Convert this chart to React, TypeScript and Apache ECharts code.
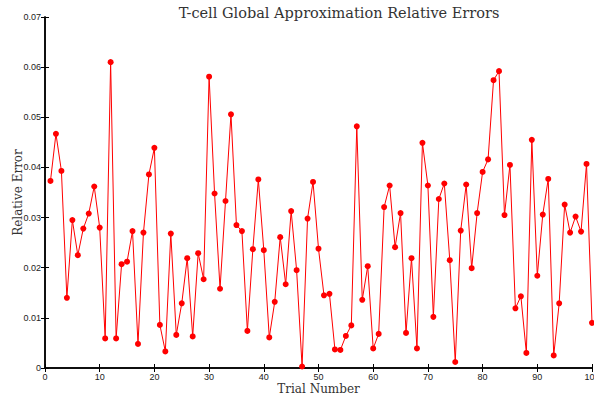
import React, { useEffect, useRef } from "react";
import * as echarts from "echarts";

const trials: number[] = Array.from({ length: 100 }, (_, i) => i + 1);
const errors: number[] = [
  0.0373, 0.0467, 0.0393, 0.0140, 0.0295, 0.0225, 0.0278, 0.0308, 0.0362, 0.0280,
  0.0059, 0.0610, 0.0059, 0.0207, 0.0212, 0.0273, 0.0048, 0.0270, 0.0386, 0.0439,
  0.0086, 0.0033, 0.0268, 0.0066, 0.0129, 0.0219, 0.0063, 0.0229, 0.0177, 0.0581,
  0.0348, 0.0158, 0.0333, 0.0506, 0.0285, 0.0273, 0.0074, 0.0237, 0.0376, 0.0235,
  0.0061, 0.0132, 0.0261, 0.0167, 0.0313, 0.0195, 0.0003, 0.0298, 0.0371, 0.0238,
  0.0145, 0.0148, 0.0037, 0.0036, 0.0064, 0.0085, 0.0482, 0.0136, 0.0203, 0.0039,
  0.0068, 0.0321, 0.0364, 0.0241, 0.0309, 0.0070, 0.0219, 0.0039, 0.0449, 0.0364,
  0.0102, 0.0337, 0.0368, 0.0215, 0.0012, 0.0274, 0.0366, 0.0199, 0.0309, 0.0391,
  0.0416, 0.0574, 0.0592, 0.0305, 0.0405, 0.0119, 0.0143, 0.0030, 0.0455, 0.0184,
  0.0306, 0.0377, 0.0025, 0.0129, 0.0326, 0.0270, 0.0302, 0.0272, 0.0407, 0.0090,
];

const titleText = "T-cell Global Approximation Relative Errors";
const xName = "Trial Number";
const yName = "Relative Error";

export default function App() {
  const ref = useRef<HTMLDivElement>(null);
  useEffect(() => {
    if (!ref.current) return;
    const chart = echarts.init(ref.current, undefined, { renderer: "svg" });
    const axisLine = { show: true, lineStyle: { color: "#000", width: 1.5 } };
    const tick = { show: true, inside: true, length: 4, lineStyle: { color: "#000", width: 1 } };
    const labelStyle = { color: "#222", fontSize: 9, fontFamily: "Liberation Sans, Arial, sans-serif" };
    chart.setOption({
      animation: false,
      backgroundColor: "#fff",
      title: {
        text: titleText,
        left: 334,
        textAlign: "center",
        top: 0,
        textStyle: {
          fontFamily: "DejaVu Serif, serif",
          fontWeight: "normal",
          fontSize: 14.5,
          color: "#333",
        },
      },
      grid: { left: 45, right: 2, top: 17, bottom: 31, containLabel: false, outerBoundsMode: "none" },
      xAxis: [
        {
          type: "value",
          min: 0,
          max: 100,
          interval: 10,
          position: "bottom",
          axisLine,
          axisTick: tick,
          splitLine: { show: false },
          axisLabel: { ...labelStyle, margin: 4 },
          name: xName,
          nameLocation: "middle",
          nameGap: 15,
          nameMoveOverlap: false,
          nameTextStyle: { fontFamily: "DejaVu Serif, serif", fontSize: 12, color: "#333" },
        },
        {
          type: "value",
          min: 0,
          max: 100,
          interval: 10,
          position: "top",
          axisLine,
          axisTick: tick,
          splitLine: { show: false },
          axisLabel: { show: false },
        },
      ],
      yAxis: [
        {
          type: "value",
          min: 0,
          max: 0.07,
          interval: 0.01,
          position: "left",
          axisLine,
          axisTick: tick,
          splitLine: { show: false },
          axisLabel: {
            ...labelStyle,
            margin: 4,
            formatter: (v: number) => (v === 0 ? "0" : v.toFixed(2)),
          },
          name: yName,
          nameLocation: "middle",
          nameGap: 21,
          nameMoveOverlap: false,
          nameTextStyle: { fontFamily: "DejaVu Serif, serif", fontSize: 12, color: "#333" },
        },
        {
          type: "value",
          min: 0,
          max: 0.07,
          interval: 0.01,
          position: "right",
          axisLine,
          axisTick: tick,
          splitLine: { show: false },
          axisLabel: { show: false },
        },
      ],
      series: [
        {
          type: "line",
          xAxisIndex: 0,
          yAxisIndex: 0,
          data: trials.map((t, i) => [t, errors[i]]),
          symbol: "circle",
          symbolSize: 6,
          showAllSymbol: true,
          lineStyle: { color: "#ff0000", width: 1 },
          itemStyle: { color: "#ff0000" },
          clip: false,
        },
      ],
    });
    return () => chart.dispose();
  }, []);
  return <div ref={ref} style={{ width: 594, height: 399, position: "fixed", left: 0, top: 0 }} />;
}
